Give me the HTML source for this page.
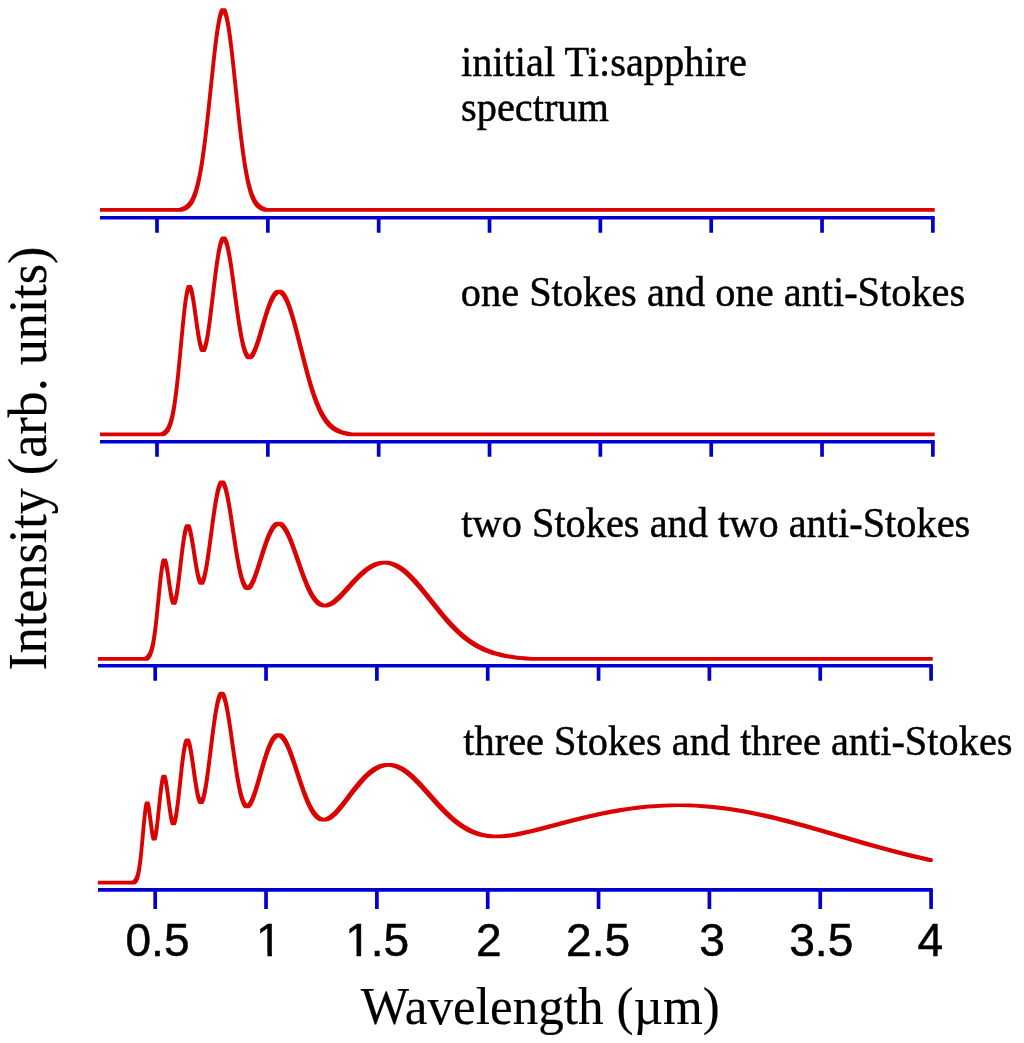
<!DOCTYPE html>
<html lang="en"><head><meta charset="utf-8"><title>Raman sideband spectra</title>
<style>html,body{margin:0;padding:0;background:#fff}svg{display:block}</style></head>
<body><svg width="1024" height="1043" viewBox="0 0 1024 1043">
<rect width="1024" height="1043" fill="#fff"/>
<path d="M99.95 207.95 L178.70 207.95 L180.20 207.58 L181.95 206.95 L183.45 206.21 L184.95 205.26 L186.20 204.26 L187.45 203.02 L188.70 201.48 L189.70 199.99 L190.45 198.70 L191.20 197.23 L192.45 194.37 L193.70 190.92 L194.95 186.80 L196.20 181.94 L197.20 177.49 L198.45 171.16 L199.45 165.47 L200.45 159.22 L201.70 150.60 L202.95 141.14 L204.20 130.88 L206.45 110.76 L212.20 56.13 L213.70 43.22 L215.20 31.76 L216.20 25.14 L216.95 20.80 L217.70 17.04 L218.45 13.91 L219.20 11.43 L219.95 9.63 L220.45 8.82 L220.70 8.53 L221.20 8.20 L221.45 8.15 L225.20 8.18 L225.70 8.48 L225.95 8.75 L226.45 9.53 L227.20 11.28 L227.70 12.82 L228.20 14.67 L229.20 19.21 L230.20 24.81 L230.95 29.65 L231.95 36.87 L233.70 51.23 L235.45 67.16 L240.45 114.89 L241.95 128.28 L243.45 140.71 L245.20 153.78 L246.70 163.64 L248.20 172.22 L248.95 176.03 L249.95 180.65 L251.45 186.61 L252.20 189.18 L253.20 192.23 L253.95 194.24 L254.95 196.59 L255.70 198.13 L256.70 199.90 L257.70 201.41 L258.70 202.68 L259.70 203.74 L260.95 204.84 L262.20 205.73 L263.70 206.58 L265.20 207.22 L266.70 207.71 L267.70 207.95 L934.70 207.95 L934.70 211.65 L264.20 211.65 L263.20 211.41 L261.45 210.83 L259.95 210.15 L258.45 209.27 L257.20 208.34 L255.95 207.19 L254.70 205.77 L253.70 204.39 L252.70 202.75 L251.70 200.82 L250.70 198.56 L249.70 195.93 L248.95 193.68 L247.95 190.31 L247.20 187.47 L246.20 183.24 L245.45 179.73 L243.95 171.78 L242.45 162.57 L240.95 152.08 L239.45 140.39 L238.20 129.81 L236.70 116.28 L230.95 61.61 L229.45 48.54 L228.20 38.69 L226.95 30.07 L225.70 22.91 L224.95 19.40 L224.45 17.41 L223.70 14.98 L223.20 13.85 L222.70 15.13 L221.95 17.61 L221.45 19.63 L220.70 23.18 L219.45 30.41 L217.95 40.98 L216.70 51.09 L215.20 64.38 L210.20 112.12 L208.20 130.27 L205.95 148.72 L204.70 157.85 L203.70 164.54 L202.45 172.09 L201.20 178.76 L199.95 184.58 L198.70 189.59 L197.45 193.85 L196.20 197.43 L194.70 200.93 L193.95 202.40 L193.20 203.69 L192.20 205.18 L190.95 206.72 L189.70 207.96 L188.45 208.96 L186.95 209.91 L185.45 210.65 L183.70 211.28 L182.20 211.65 L99.95 211.65Z" fill="#DB0202" stroke="none"/>
<path d="M100.0 217.8H934.7" stroke="#0000D2" stroke-width="3.5" fill="none"/>
<path d="M157.00 217.8V232.8M267.84 217.8V232.8M378.68 217.8V232.8M489.52 217.8V232.8M600.36 217.8V232.8M711.20 217.8V232.8M822.04 217.8V232.8M932.88 217.8V232.8" stroke="#0000D2" stroke-width="3.7" fill="none"/>
<path d="M99.95 432.45 L160.20 432.45 L160.95 432.18 L161.95 431.68 L162.70 431.20 L163.45 430.62 L164.70 429.38 L165.95 427.69 L166.95 425.91 L167.95 423.62 L168.95 420.74 L169.95 417.14 L170.95 412.74 L171.70 408.87 L172.45 404.47 L173.20 399.53 L174.70 388.02 L176.20 374.48 L177.70 359.33 L180.95 324.68 L182.70 307.98 L183.70 299.99 L184.45 294.97 L185.20 290.90 L185.95 287.87 L186.45 286.44 L186.70 285.92 L186.95 285.51 L187.20 285.23 L187.45 285.07 L191.20 285.04 L191.45 285.12 L191.70 285.33 L191.95 285.65 L192.45 286.64 L192.95 288.07 L193.45 289.91 L193.95 292.13 L195.20 299.07 L196.45 307.46 L199.20 327.22 L200.70 336.56 L201.45 340.40 L202.20 343.57 L202.95 345.98 L203.20 345.65 L203.95 343.16 L204.95 338.74 L205.95 333.18 L206.95 326.66 L208.95 311.51 L213.70 272.25 L215.20 261.27 L216.45 253.32 L217.20 249.19 L217.95 245.59 L218.70 242.56 L219.20 240.88 L219.95 238.86 L220.70 237.49 L221.20 236.92 L221.45 236.75 L221.95 236.62 L225.45 236.62 L225.95 236.78 L226.45 237.22 L227.20 238.40 L227.95 240.19 L228.70 242.56 L229.70 246.57 L230.45 250.16 L231.20 254.20 L232.95 265.08 L234.70 277.41 L239.20 310.74 L240.70 320.92 L242.20 330.07 L243.20 335.49 L243.95 339.15 L244.70 342.45 L245.45 345.38 L246.20 347.94 L246.95 350.11 L247.70 351.91 L248.45 353.33 L248.95 354.08 L249.45 354.66 L249.95 354.13 L250.70 353.12 L251.70 351.41 L252.70 349.32 L253.70 346.91 L255.20 342.78 L256.70 338.19 L262.95 317.17 L265.70 308.52 L267.20 304.28 L268.45 301.07 L269.95 297.68 L271.20 295.28 L272.45 293.28 L273.70 291.72 L274.45 290.99 L274.95 290.60 L275.70 290.16 L276.20 289.95 L277.20 289.77 L281.20 289.79 L282.20 290.07 L282.70 290.32 L283.45 290.83 L284.45 291.78 L285.70 293.37 L286.70 294.96 L287.95 297.33 L288.95 299.51 L290.20 302.58 L291.45 306.00 L292.70 309.74 L294.95 317.17 L297.20 325.31 L299.70 334.93 L306.95 363.60 L309.20 372.04 L311.20 379.16 L313.70 387.43 L315.95 394.21 L318.20 400.32 L320.45 405.74 L321.70 408.46 L322.95 410.97 L324.20 413.29 L325.70 415.81 L326.95 417.71 L328.45 419.76 L329.70 421.30 L331.20 422.93 L332.70 424.37 L334.20 425.63 L335.70 426.73 L337.45 427.83 L339.20 428.76 L341.20 429.66 L343.20 430.40 L345.45 431.09 L348.70 431.85 L352.45 432.45 L934.70 432.45 L934.70 436.15 L348.95 436.15 L345.20 435.55 L341.95 434.79 L339.70 434.10 L337.70 433.36 L335.70 432.46 L333.95 431.53 L332.20 430.43 L330.70 429.33 L329.20 428.07 L327.70 426.63 L326.20 425.00 L324.95 423.46 L323.45 421.41 L322.20 419.51 L320.70 416.99 L319.45 414.67 L318.20 412.16 L316.95 409.44 L314.70 404.02 L312.45 397.91 L310.20 391.13 L307.70 382.86 L305.70 375.74 L303.45 367.30 L296.20 338.63 L293.70 329.01 L291.45 320.87 L289.20 313.44 L287.95 309.70 L286.70 306.28 L285.45 303.21 L284.45 301.03 L283.20 298.66 L282.20 297.07 L280.95 295.48 L279.95 294.53 L279.20 294.02 L278.95 293.99 L278.45 294.30 L277.70 294.92 L276.45 296.30 L275.45 297.73 L274.20 299.89 L273.20 301.91 L271.95 304.77 L269.95 310.05 L267.95 316.03 L265.95 322.53 L261.20 338.64 L258.95 345.74 L257.95 348.61 L256.95 351.24 L255.95 353.58 L254.95 355.58 L253.95 357.19 L253.20 358.11 L252.70 358.58 L252.20 358.92 L251.45 359.20 L247.70 359.22 L247.20 359.16 L246.45 358.80 L245.95 358.37 L245.45 357.78 L244.95 357.03 L244.20 355.61 L243.45 353.81 L242.20 349.97 L241.45 347.17 L240.70 343.99 L239.20 336.55 L237.70 327.80 L236.20 317.93 L234.70 307.23 L230.70 277.48 L229.45 268.78 L228.45 262.34 L227.20 255.16 L225.95 249.19 L225.20 246.26 L224.70 244.62 L224.20 243.23 L223.70 242.10 L223.20 243.17 L222.70 244.58 L222.20 246.26 L221.45 249.29 L220.20 255.59 L218.95 263.28 L217.95 270.29 L216.70 279.88 L211.70 321.15 L210.45 330.36 L209.45 336.88 L208.45 342.44 L207.45 346.86 L206.95 348.61 L206.45 350.01 L205.95 351.07 L205.70 351.47 L205.20 351.98 L204.95 352.10 L201.20 352.12 L200.95 352.05 L200.45 351.63 L199.95 350.84 L199.45 349.68 L198.70 347.27 L197.70 342.89 L196.45 335.82 L195.20 327.45 L192.45 307.68 L191.20 299.78 L190.45 295.83 L189.70 292.64 L189.45 291.77 L189.20 292.46 L188.45 295.84 L187.70 300.24 L186.95 305.55 L185.95 313.88 L184.45 328.38 L181.20 363.03 L179.70 378.18 L178.20 391.72 L176.70 403.23 L175.95 408.17 L175.20 412.57 L174.45 416.44 L173.45 420.84 L172.45 424.44 L171.45 427.32 L170.45 429.61 L169.45 431.39 L168.20 433.08 L166.95 434.32 L166.20 434.90 L165.45 435.38 L164.45 435.88 L163.70 436.15 L99.95 436.15Z" fill="#DB0202" stroke="none"/>
<path d="M100.0 441.8H934.7" stroke="#0000D2" stroke-width="3.5" fill="none"/>
<path d="M157.00 441.8V456.7M267.84 441.8V456.7M378.68 441.8V456.7M489.52 441.8V456.7M600.36 441.8V456.7M711.20 441.8V456.7M822.04 441.8V456.7M932.88 441.8V456.7" stroke="#0000D2" stroke-width="3.7" fill="none"/>
<path d="M97.95 657.05 L143.95 657.05 L144.20 657.00 L144.70 656.72 L145.70 655.98 L146.45 655.22 L147.20 654.25 L147.95 653.00 L148.70 651.41 L149.45 649.38 L149.95 647.75 L150.70 644.80 L151.20 642.48 L151.95 638.40 L152.45 635.28 L153.45 628.06 L154.70 617.30 L157.95 584.72 L159.20 573.37 L159.95 567.74 L160.45 564.63 L160.95 562.11 L161.45 560.21 L161.95 558.97 L162.20 558.61 L162.45 558.41 L162.70 558.38 L166.20 558.38 L166.45 558.52 L166.70 558.82 L167.20 559.89 L167.95 562.58 L168.95 567.84 L169.70 572.67 L171.70 586.61 L172.70 592.75 L173.20 595.32 L173.70 597.47 L173.95 597.32 L174.45 595.12 L174.95 592.48 L176.20 584.27 L177.45 574.37 L180.45 548.84 L181.95 537.87 L182.95 532.05 L183.70 528.66 L184.20 526.90 L184.70 525.57 L185.20 524.67 L185.45 524.39 L185.70 524.22 L185.95 524.15 L189.45 524.15 L189.70 524.20 L189.95 524.35 L190.20 524.60 L190.70 525.43 L191.20 526.64 L191.70 528.24 L192.70 532.42 L193.70 537.69 L194.70 543.74 L197.45 561.46 L198.70 568.63 L199.45 572.32 L200.20 575.43 L200.70 577.15 L201.20 578.56 L201.45 578.64 L202.20 576.47 L203.20 572.57 L204.20 567.65 L205.20 561.86 L207.20 548.32 L211.95 513.01 L213.45 503.08 L214.70 495.87 L215.45 492.11 L216.20 488.83 L216.95 486.05 L217.45 484.50 L218.20 482.63 L218.95 481.33 L219.45 480.78 L219.70 480.61 L220.20 480.45 L223.95 480.46 L224.45 480.69 L224.95 481.17 L225.70 482.35 L226.45 484.07 L227.20 486.31 L227.95 489.03 L228.70 492.20 L229.45 495.77 L231.20 505.43 L232.95 516.42 L237.70 547.78 L239.20 556.77 L240.70 564.80 L241.70 569.52 L242.45 572.69 L243.45 576.41 L244.20 578.81 L244.95 580.87 L245.70 582.58 L246.45 583.96 L246.95 584.69 L247.45 585.27 L247.70 585.36 L248.20 584.86 L248.95 583.91 L249.70 582.73 L250.45 581.36 L251.20 579.81 L252.70 576.23 L253.95 572.85 L255.45 568.44 L261.45 549.37 L264.20 541.16 L265.70 537.09 L266.95 534.00 L268.20 531.20 L269.45 528.72 L270.95 526.22 L272.20 524.55 L273.45 523.26 L274.70 522.37 L275.70 521.95 L276.70 521.79 L280.45 521.79 L281.45 521.96 L282.45 522.37 L283.70 523.24 L284.70 524.21 L285.95 525.74 L286.95 527.22 L288.20 529.34 L289.45 531.77 L290.70 534.46 L292.70 539.24 L294.95 545.18 L297.20 551.52 L302.70 567.44 L305.70 575.67 L307.20 579.52 L308.70 583.14 L310.20 586.50 L311.45 589.10 L312.70 591.49 L313.95 593.66 L315.20 595.63 L316.45 597.37 L317.70 598.89 L318.95 600.20 L320.20 601.29 L321.70 602.32 L322.95 602.95 L324.20 603.39 L324.95 603.56 L325.70 603.39 L327.45 602.81 L329.20 601.97 L330.95 600.90 L332.95 599.45 L335.95 596.87 L339.45 593.43 L342.70 589.97 L352.20 579.53 L355.20 576.39 L357.95 573.68 L360.95 570.94 L363.95 568.46 L366.70 566.45 L369.45 564.72 L372.20 563.28 L374.70 562.25 L377.45 561.42 L379.95 560.96 L382.45 560.77 L387.70 560.81 L390.20 561.10 L392.70 561.67 L394.95 562.42 L397.45 563.51 L399.70 564.71 L402.20 566.27 L404.70 568.07 L407.20 570.09 L409.95 572.55 L412.70 575.22 L417.20 580.01 L422.20 585.79 L427.20 591.91 L440.70 608.84 L444.70 613.67 L448.45 618.02 L452.70 622.71 L456.70 626.83 L460.70 630.66 L464.45 633.97 L468.70 637.38 L472.95 640.42 L477.20 643.11 L479.45 644.40 L481.70 645.60 L486.20 647.73 L490.70 649.54 L495.45 651.14 L500.70 652.59 L504.20 653.40 L507.95 654.15 L511.70 654.80 L515.70 655.39 L519.95 655.91 L524.45 656.37 L529.20 656.76 L533.70 657.05 L932.70 657.05 L932.70 660.75 L530.20 660.75 L525.70 660.46 L520.95 660.07 L516.70 659.64 L512.45 659.12 L508.45 658.54 L504.70 657.90 L500.95 657.15 L497.45 656.35 L492.20 654.91 L487.45 653.33 L482.70 651.43 L478.20 649.30 L473.95 646.96 L469.70 644.29 L465.45 641.27 L461.20 637.88 L457.20 634.36 L453.20 630.53 L449.20 626.41 L444.95 621.72 L441.20 617.37 L437.20 612.54 L423.70 595.61 L418.70 589.49 L413.70 583.71 L409.20 578.92 L406.45 576.25 L403.70 573.79 L401.20 571.77 L398.70 569.97 L396.20 568.41 L393.95 567.21 L391.45 566.12 L389.20 565.37 L386.95 564.85 L384.70 564.55 L382.45 564.81 L380.20 565.31 L377.45 566.23 L374.70 567.47 L371.95 569.02 L369.20 570.85 L366.95 572.55 L364.45 574.64 L361.95 576.91 L359.45 579.34 L354.70 584.30 L344.70 595.29 L342.45 597.65 L340.45 599.63 L338.45 601.47 L336.45 603.15 L334.70 604.43 L332.95 605.53 L331.45 606.29 L329.95 606.87 L328.45 607.26 L326.95 607.42 L322.95 607.42 L321.70 607.31 L320.70 607.09 L319.95 606.85 L318.95 606.42 L318.20 606.02 L316.70 604.99 L315.45 603.90 L314.20 602.59 L312.95 601.07 L311.70 599.33 L310.45 597.36 L309.20 595.19 L307.70 592.29 L306.45 589.66 L304.95 586.25 L303.45 582.59 L301.95 578.71 L298.95 570.43 L291.70 549.57 L289.45 543.58 L287.45 538.73 L286.20 535.99 L285.20 533.98 L283.95 531.73 L282.95 530.15 L281.70 528.48 L280.70 527.40 L279.70 526.55 L278.70 525.95 L278.45 525.94 L277.95 526.22 L276.70 527.19 L275.70 528.25 L274.70 529.55 L273.70 531.11 L272.70 532.89 L271.70 534.90 L270.45 537.70 L268.45 542.78 L266.45 548.49 L264.45 554.64 L259.70 569.83 L257.70 575.84 L255.70 581.18 L254.70 583.51 L253.70 585.54 L252.70 587.24 L251.95 588.27 L250.95 589.27 L250.20 589.73 L249.45 589.92 L245.70 589.92 L245.20 589.82 L244.70 589.58 L244.20 589.21 L243.70 588.70 L242.95 587.66 L241.95 585.75 L241.20 583.92 L240.45 581.75 L239.70 579.24 L238.95 576.39 L237.95 572.09 L236.45 564.62 L234.70 554.57 L232.95 543.46 L228.70 515.29 L227.45 507.65 L226.45 502.06 L225.20 495.90 L223.95 490.87 L223.20 488.46 L222.70 487.14 L222.20 486.05 L221.95 485.83 L221.45 486.89 L220.95 488.20 L219.95 491.55 L218.95 495.81 L217.95 500.92 L216.70 508.35 L215.45 516.71 L210.45 553.81 L209.45 560.74 L208.45 567.08 L207.20 573.93 L206.20 578.36 L205.70 580.17 L205.20 581.69 L204.70 582.91 L204.20 583.81 L203.70 584.39 L203.20 584.63 L199.45 584.63 L199.20 584.54 L198.70 584.11 L198.20 583.35 L197.70 582.26 L197.20 580.85 L196.70 579.13 L195.95 576.02 L194.70 569.59 L193.45 562.03 L190.95 545.87 L189.70 538.64 L188.95 534.96 L188.45 532.86 L187.95 531.09 L187.70 530.60 L187.20 532.36 L186.45 535.75 L185.70 539.99 L184.95 544.96 L183.45 556.62 L180.45 582.18 L179.70 587.97 L178.95 593.15 L178.20 597.55 L177.45 601.02 L176.70 603.42 L176.20 604.38 L175.95 604.66 L175.70 604.81 L171.95 604.82 L171.70 604.69 L171.45 604.43 L171.20 604.04 L170.70 602.85 L169.95 600.15 L168.95 595.03 L167.95 588.63 L165.95 574.70 L165.20 570.07 L164.45 566.28 L164.20 566.99 L163.70 569.82 L163.20 573.20 L162.20 581.37 L158.20 621.00 L157.20 629.75 L156.20 637.30 L154.95 644.90 L154.45 647.38 L153.70 650.53 L152.95 653.08 L152.20 655.11 L151.45 656.70 L150.70 657.95 L149.95 658.92 L149.20 659.68 L148.20 660.42 L147.70 660.70 L147.45 660.75 L97.95 660.75Z" fill="#DB0202" stroke="none"/>
<path d="M98.0 665.7H932.75" stroke="#0000D2" stroke-width="3.5" fill="none"/>
<path d="M155.20 665.7V680.7M266.04 665.7V680.7M376.88 665.7V680.7M487.72 665.7V680.7M598.56 665.7V680.7M709.40 665.7V680.7M820.24 665.7V680.7M931.08 665.7V680.7" stroke="#0000D2" stroke-width="3.7" fill="none"/>
<path d="M97.95 880.85 L131.45 880.85 L132.20 880.50 L132.95 879.93 L133.70 879.09 L134.20 878.34 L134.70 877.41 L135.20 876.26 L135.70 874.82 L136.20 873.06 L136.70 870.92 L137.20 868.35 L137.95 863.61 L138.70 857.77 L139.45 850.89 L142.20 821.05 L142.95 813.70 L143.70 807.74 L144.20 804.79 L144.45 803.65 L144.95 802.13 L145.20 801.74 L145.45 801.61 L148.95 801.61 L149.20 801.73 L149.45 802.09 L149.70 802.69 L150.20 804.56 L150.95 808.77 L153.45 827.66 L153.95 830.88 L154.20 831.58 L154.95 826.59 L155.70 820.40 L158.20 796.27 L159.45 785.65 L160.20 780.73 L160.70 778.21 L161.20 776.37 L161.45 775.72 L161.70 775.25 L161.95 774.96 L162.20 774.85 L165.70 774.85 L165.95 774.93 L166.20 775.18 L166.45 775.61 L166.70 776.20 L167.20 777.88 L167.95 781.48 L168.70 786.14 L171.20 804.91 L171.95 810.16 L172.70 814.65 L173.20 817.11 L173.45 817.96 L173.95 815.70 L174.45 812.95 L174.95 809.77 L175.70 804.28 L176.95 793.70 L179.95 766.06 L180.95 757.77 L181.70 752.29 L182.70 746.22 L183.45 742.75 L183.95 740.99 L184.45 739.69 L184.95 738.87 L185.20 738.64 L185.45 738.52 L188.95 738.52 L189.20 738.53 L189.45 738.65 L189.70 738.89 L190.20 739.70 L190.70 740.95 L191.20 742.61 L192.20 747.03 L193.20 752.68 L194.20 759.19 L196.95 778.47 L198.45 787.77 L199.20 791.65 L199.70 793.89 L200.45 796.65 L200.95 798.04 L201.45 796.62 L201.95 794.89 L202.95 790.51 L203.95 785.05 L204.95 778.67 L206.95 763.91 L210.20 737.57 L211.70 725.90 L213.20 715.32 L214.45 707.67 L215.20 703.71 L215.95 700.26 L216.70 697.37 L217.20 695.77 L217.95 693.86 L218.70 692.56 L219.20 692.05 L219.45 691.89 L219.95 691.79 L223.45 691.79 L223.95 691.97 L224.45 692.42 L225.20 693.60 L225.95 695.36 L226.70 697.69 L227.45 700.53 L228.20 703.87 L228.95 707.65 L230.70 717.90 L232.45 729.63 L235.95 754.62 L237.45 764.91 L238.95 774.40 L240.45 782.84 L241.45 787.76 L242.20 791.06 L242.95 794.00 L243.70 796.57 L244.45 798.78 L245.20 800.62 L245.95 802.09 L246.45 802.87 L246.95 803.50 L247.20 803.53 L247.70 802.98 L248.45 801.94 L249.20 800.67 L249.95 799.17 L250.70 797.48 L252.20 793.58 L253.70 789.13 L255.20 784.27 L260.95 764.28 L263.70 755.25 L265.20 750.76 L266.45 747.32 L267.70 744.20 L268.95 741.42 L270.45 738.58 L271.70 736.66 L272.95 735.15 L274.20 734.06 L275.20 733.51 L276.20 733.23 L280.45 733.20 L281.45 733.41 L281.95 733.62 L282.70 734.05 L283.70 734.86 L284.95 736.23 L286.20 737.98 L287.45 740.08 L288.70 742.51 L289.95 745.23 L292.20 750.78 L294.45 756.99 L296.70 763.63 L302.45 781.13 L305.70 790.43 L307.45 795.04 L308.95 798.71 L310.45 802.09 L311.95 805.16 L313.45 807.91 L314.95 810.32 L316.20 812.07 L317.70 813.85 L319.20 815.30 L320.70 816.41 L322.20 817.20 L323.70 817.69 L324.95 817.38 L326.20 816.89 L327.45 816.24 L328.70 815.46 L329.95 814.55 L331.45 813.31 L332.95 811.93 L334.45 810.41 L337.20 807.36 L340.20 803.73 L343.20 799.90 L352.20 788.12 L354.95 784.67 L357.70 781.36 L360.70 777.98 L363.45 775.11 L366.20 772.49 L368.70 770.36 L371.45 768.30 L374.20 766.56 L376.95 765.16 L378.45 764.54 L379.70 764.10 L382.20 763.44 L384.70 763.07 L386.45 762.99 L391.45 763.03 L393.70 763.29 L396.20 763.85 L398.70 764.68 L401.20 765.77 L403.70 767.11 L406.45 768.86 L409.20 770.87 L411.95 773.11 L414.20 775.10 L416.45 777.21 L418.95 779.69 L421.70 782.55 L426.70 787.98 L439.20 801.96 L442.95 805.99 L446.20 809.34 L449.95 813.01 L453.45 816.22 L456.95 819.18 L460.20 821.70 L463.45 823.98 L466.70 826.04 L469.95 827.85 L473.20 829.43 L476.45 830.78 L479.95 831.98 L483.45 832.94 L486.95 833.67 L489.95 834.12 L493.20 834.44 L496.70 834.60 L498.70 834.54 L502.70 834.26 L506.70 833.83 L511.20 833.19 L515.95 832.35 L523.20 830.84 L531.45 828.88 L539.95 826.69 L569.45 818.89 L579.45 816.40 L588.95 814.16 L599.20 811.93 L608.95 810.00 L618.45 808.33 L627.95 806.89 L636.70 805.76 L645.45 804.84 L654.20 804.14 L662.70 803.68 L671.70 803.42 L682.20 803.38 L690.45 803.53 L698.70 803.89 L707.20 804.46 L715.95 805.27 L724.70 806.30 L733.45 807.53 L742.45 808.99 L751.70 810.70 L761.20 812.65 L770.95 814.83 L778.95 816.75 L787.20 818.83 L795.95 821.14 L805.45 823.74 L822.70 828.64 L865.70 841.16 L877.95 844.63 L888.95 847.64 L900.45 850.68 L911.45 853.46 L922.20 856.04 L932.70 858.42 L932.70 862.12 L929.20 862.12 L927.95 861.85 L919.20 859.86 L910.45 857.77 L901.45 855.53 L891.95 853.08 L878.95 849.57 L864.95 845.65 L818.20 832.05 L800.45 827.02 L790.95 824.44 L782.20 822.15 L773.70 820.02 L765.70 818.13 L755.95 815.98 L746.70 814.11 L737.70 812.48 L728.95 811.08 L720.45 809.90 L711.95 808.92 L703.45 808.14 L695.20 807.59 L686.95 807.23 L678.70 807.08 L671.70 807.19 L664.70 807.44 L656.45 807.93 L648.20 808.61 L639.95 809.49 L631.45 810.59 L622.20 811.99 L612.70 813.66 L602.95 815.58 L592.70 817.80 L583.20 820.04 L573.20 822.53 L543.20 830.46 L534.20 832.76 L525.20 834.87 L517.70 836.38 L512.95 837.16 L508.70 837.71 L504.70 838.09 L500.70 838.29 L494.45 838.32 L490.95 838.22 L487.20 837.90 L483.45 837.37 L479.95 836.64 L476.45 835.68 L472.95 834.48 L469.70 833.13 L466.20 831.42 L462.95 829.59 L459.70 827.52 L456.45 825.21 L453.20 822.67 L449.70 819.70 L446.20 816.48 L442.70 813.04 L439.45 809.69 L435.70 805.66 L423.20 791.68 L418.20 786.25 L413.20 781.16 L410.95 779.03 L408.70 777.02 L405.95 774.76 L403.20 772.73 L400.70 771.11 L398.20 769.72 L395.70 768.58 L393.20 767.69 L390.70 767.08 L388.45 766.77 L386.20 767.04 L383.70 767.64 L381.20 768.53 L378.70 769.71 L376.20 771.17 L373.70 772.90 L371.20 774.88 L368.70 777.11 L366.45 779.31 L364.20 781.68 L361.95 784.19 L359.45 787.14 L354.70 793.11 L344.95 805.85 L340.95 810.77 L338.95 813.04 L337.20 814.88 L335.45 816.57 L333.95 817.86 L332.20 819.16 L330.70 820.08 L329.20 820.80 L327.70 821.30 L326.70 821.50 L325.70 821.58 L321.70 821.58 L320.45 821.44 L319.45 821.18 L318.70 820.90 L317.20 820.11 L315.70 819.00 L314.20 817.55 L312.70 815.77 L311.20 813.64 L309.70 811.18 L307.95 807.87 L306.45 804.70 L304.95 801.21 L303.45 797.45 L301.95 793.44 L298.95 784.83 L291.20 761.41 L288.95 755.15 L286.95 750.10 L285.70 747.26 L284.70 745.20 L283.45 742.90 L282.45 741.30 L281.45 739.93 L280.45 738.80 L279.45 737.93 L278.45 737.32 L277.45 737.94 L276.45 738.85 L275.45 740.02 L274.20 741.86 L273.20 743.63 L272.20 745.65 L271.20 747.90 L269.95 751.02 L267.95 756.66 L265.95 762.94 L263.95 769.70 L259.45 785.43 L257.45 792.04 L255.45 797.97 L254.45 800.58 L253.45 802.87 L252.45 804.82 L251.70 806.02 L250.70 807.23 L249.95 807.84 L249.45 808.08 L248.95 808.19 L244.95 808.16 L244.45 807.99 L243.95 807.67 L243.45 807.20 L242.95 806.57 L242.45 805.79 L241.95 804.85 L241.20 803.14 L240.45 801.05 L239.45 797.70 L238.70 794.76 L237.70 790.29 L235.95 781.04 L234.20 770.25 L232.45 758.32 L228.45 729.87 L227.20 721.60 L226.20 715.52 L224.95 708.78 L223.95 704.23 L223.20 701.39 L222.70 699.78 L222.20 698.41 L221.70 697.30 L221.45 697.56 L220.70 699.47 L219.70 702.94 L218.70 707.41 L217.70 712.80 L216.45 720.68 L215.20 729.60 L210.20 769.57 L208.95 778.90 L207.95 785.66 L206.70 792.94 L205.70 797.60 L205.20 799.49 L204.70 801.07 L204.20 802.32 L203.70 803.22 L203.20 803.78 L202.95 803.92 L202.70 803.97 L199.20 803.97 L198.95 803.93 L198.70 803.80 L198.20 803.26 L197.70 802.36 L197.20 801.11 L196.70 799.51 L196.20 797.59 L195.45 794.13 L194.20 787.04 L193.20 780.47 L190.45 761.20 L189.20 753.42 L188.45 749.50 L187.95 747.28 L187.45 745.43 L187.20 745.51 L186.70 747.49 L185.95 751.29 L185.20 755.99 L184.45 761.47 L183.20 771.97 L180.20 799.63 L178.70 811.73 L177.95 816.65 L177.20 820.59 L176.45 823.41 L175.95 824.60 L175.70 824.98 L175.45 825.22 L175.20 825.30 L171.70 825.30 L171.45 825.24 L171.20 825.04 L170.95 824.68 L170.70 824.19 L170.20 822.77 L169.45 819.64 L168.70 815.45 L167.70 808.61 L165.20 789.84 L164.45 785.18 L164.20 783.85 L163.95 783.08 L163.20 787.57 L162.20 795.43 L159.45 821.83 L158.45 830.29 L157.95 833.77 L157.45 836.62 L156.95 838.76 L156.45 840.10 L156.20 840.47 L155.95 840.62 L152.45 840.62 L152.20 840.56 L151.95 840.29 L151.70 839.82 L151.45 839.14 L150.95 837.21 L150.20 833.04 L149.45 827.72 L147.70 814.17 L147.45 812.47 L147.20 811.44 L146.70 815.23 L145.95 822.18 L142.95 854.59 L142.20 861.47 L141.45 867.31 L140.70 872.05 L140.20 874.62 L139.70 876.76 L139.20 878.52 L138.70 879.96 L138.20 881.11 L137.45 882.44 L136.95 883.11 L136.20 883.85 L135.45 884.34 L134.95 884.55 L97.95 884.55Z" fill="#DB0202" stroke="none"/>
<path d="M98.0 889.9H932.75" stroke="#0000D2" stroke-width="3.9" fill="none"/>
<path d="M155.20 889.9V909.0M266.04 889.9V909.0M376.88 889.9V909.0M487.72 889.9V909.0M598.56 889.9V909.0M709.40 889.9V909.0M820.24 889.9V909.0M931.08 889.9V909.0" stroke="#0000D2" stroke-width="3.7" fill="none"/>
<text transform="translate(461 75.5) scale(0.95 1)" font-family="'Liberation Serif', serif" font-size="42.5" text-anchor="start" fill="#000" stroke="#000" stroke-width="0.45">initial Ti:sapphire</text>
<text transform="translate(461 120.9) scale(0.95 1)" font-family="'Liberation Serif', serif" font-size="42.5" text-anchor="start" fill="#000" stroke="#000" stroke-width="0.45">spectrum</text>
<text transform="translate(460.8 305.5) scale(0.95 1)" font-family="'Liberation Serif', serif" font-size="42.5" text-anchor="start" fill="#000" stroke="#000" stroke-width="0.45">one Stokes and one anti-Stokes</text>
<text transform="translate(461.3 537.1) scale(0.95 1)" font-family="'Liberation Serif', serif" font-size="42.5" text-anchor="start" fill="#000" stroke="#000" stroke-width="0.45">two Stokes and two anti-Stokes</text>
<text transform="translate(463.3 754.6) scale(0.95 1)" font-family="'Liberation Serif', serif" font-size="42.5" text-anchor="start" fill="#000" stroke="#000" stroke-width="0.45">three Stokes and three anti-Stokes</text>
<text transform="translate(540.2 1023.9) scale(0.978 1)" font-family="'Liberation Serif', serif" font-size="52.3" text-anchor="middle" fill="#000" stroke="#000" stroke-width="0.15">Wavelength (µm)</text>
<text transform="translate(46 458.6) rotate(-90) scale(0.963 1)" font-family="'Liberation Serif', serif" font-size="54.1" text-anchor="middle" fill="#000" stroke="#000" stroke-width="0.15">Intensity (arb. units)</text>
<text transform="translate(157.5 956.0) scale(0.981 1)" font-family="'Liberation Sans', sans-serif" font-size="47.0" text-anchor="middle" fill="#000" stroke="#000" stroke-width="0.5">0.5</text>
<text transform="translate(268.84 956.0) scale(0.981 1)" font-family="'Liberation Sans', sans-serif" font-size="47.0" text-anchor="middle" fill="#000" stroke="#000" stroke-width="0.5">1</text>
<text transform="translate(377.18 956.0) scale(0.981 1)" font-family="'Liberation Sans', sans-serif" font-size="47.0" text-anchor="middle" fill="#000" stroke="#000" stroke-width="0.5">1.5</text>
<text transform="translate(488.82 956.0) scale(0.981 1)" font-family="'Liberation Sans', sans-serif" font-size="47.0" text-anchor="middle" fill="#000" stroke="#000" stroke-width="0.5">2</text>
<text transform="translate(598.16 956.0) scale(0.981 1)" font-family="'Liberation Sans', sans-serif" font-size="47.0" text-anchor="middle" fill="#000" stroke="#000" stroke-width="0.5">2.5</text>
<text transform="translate(712.0 956.0) scale(0.981 1)" font-family="'Liberation Sans', sans-serif" font-size="47.0" text-anchor="middle" fill="#000" stroke="#000" stroke-width="0.5">3</text>
<text transform="translate(821.24 956.0) scale(0.981 1)" font-family="'Liberation Sans', sans-serif" font-size="47.0" text-anchor="middle" fill="#000" stroke="#000" stroke-width="0.5">3.5</text>
<text transform="translate(930.28 956.0) scale(0.981 1)" font-family="'Liberation Sans', sans-serif" font-size="47.0" text-anchor="middle" fill="#000" stroke="#000" stroke-width="0.5">4</text>
<rect x="257.5" y="951.9" width="9.91" height="6" fill="#fff"/>
<rect x="271.92" y="951.9" width="9.08" height="6" fill="#fff"/>
<rect x="347.4" y="951.9" width="9.11" height="6" fill="#fff"/>
<rect x="361.1" y="951.9" width="8.90" height="6" fill="#fff"/>
</svg></body></html>
